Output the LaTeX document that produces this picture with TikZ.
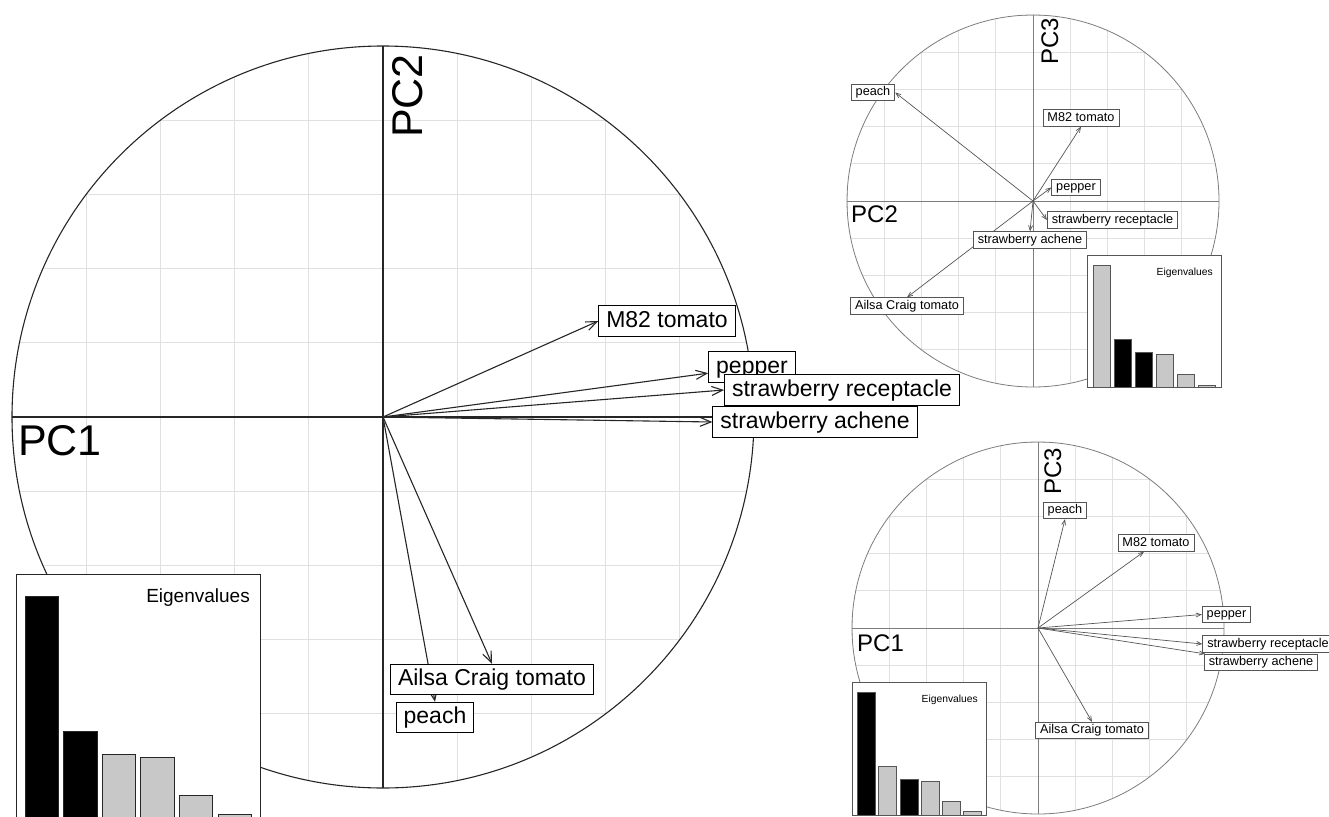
\documentclass[tikz,border=0pt]{standalone}
\usepackage{fontspec}
\setmainfont{Liberation Sans}
\usetikzlibrary{arrows.meta}
\pgfdeclarelayer{back}
\pgfdeclarelayer{arrowlayer}
\pgfsetlayers{back,arrowlayer,main}
\definecolor{gridgray}{RGB}{224,224,224}
\definecolor{bargray}{RGB}{200,200,200}
\definecolor{linegray}{RGB}{125,125,125}
\definecolor{arrowgray}{RGB}{85,85,85}
\tikzset{
  bigbox/.style={draw=black, fill=white, line width=1pt, font=\fontsize{23}{27}\selectfont, inner xsep=7.5pt, inner ysep=4.3pt, text height=17pt, text depth=4.8pt},
  smallbox/.style={draw=arrowgray, fill=white, line width=0.8pt, font=\fontsize{12.7}{15}\selectfont, inner xsep=4.5pt, inner ysep=2.2pt, text height=9.4pt, text depth=2.7pt},
  bigarrow/.style={-{Straight Barb[length=11pt,width=9pt]}, line width=1.1pt, draw=black!85},
  smallarrow/.style={-{Straight Barb[length=5pt,width=4pt]}, line width=0.7pt, draw=arrowgray},
  gridline/.style={draw=gridgray, line width=0.9pt},
  bigaxis/.style={draw=black!85, line width=1.1pt},
  smallaxis/.style={draw=linegray, line width=0.8pt},
  eigbox/.style={draw=black!85, fill=white, line width=1pt},
  barblack/.style={draw=black!85, fill=black, line width=1pt},
  barlight/.style={draw=black!85, fill=bargray, line width=1pt},
  smalleigbox/.style={draw=arrowgray, fill=white, line width=0.8pt},
  smallbarblack/.style={draw=arrowgray, fill=black, line width=0.8pt},
  smallbarlight/.style={draw=arrowgray, fill=bargray, line width=0.8pt},
  axislabel/.style={inner sep=0pt, anchor=base west}
}
\begin{document}
\begin{tikzpicture}[x=1pt, y=-1pt]
\useasboundingbox (0,0) rectangle (1329,816);
\clip (0,0) rectangle (1329,816);
% PC1 / PC2
\begin{pgfonlayer}{back}
\begin{scope}[shift={(383,417)}]
\clip (0,0) circle (371);
\draw[gridline, step=74.2pt] (-371,-371) grid (371,371);
\end{scope}
\draw[bigaxis] (383,417) circle (371);
\draw[bigaxis] (12,417) -- (754,417);
\draw[bigaxis] (383,46) -- (383,788);
\end{pgfonlayer}
\coordinate (O1) at (383,417);
\node[bigbox] (m82a) at (667,321) {M82 tomato};
\node[bigbox] (peppera) at (752,367) {pepper};
\node[bigbox] (recepa) at (842,390) {strawberry receptacle};
\node[bigbox] (achenea) at (815,422) {strawberry achene};
\node[bigbox] (ailsaa) at (492,679.5) {Ailsa Craig tomato};
\node[bigbox] (peacha) at (435,717.5) {peach};
\begin{pgfonlayer}{arrowlayer}
\path (O1) edge[bigarrow] (m82a.west);
\path (O1) edge[bigarrow] (peppera.188);
\path (O1) edge[bigarrow] (recepa.west);
\path (O1) edge[bigarrow] (achenea.west);
\path (O1) edge[bigarrow] (ailsaa.north);
\path (O1) edge[bigarrow] (peacha.north);
\end{pgfonlayer}
\node[axislabel, font=\fontsize{43}{50}\selectfont] (pc1a) at (18,455) {PC1};
\node[axislabel, font=\fontsize{43}{50}\selectfont, rotate=90] (pc2a) at (422,138) {PC2};
\draw[eigbox] (16,574) rectangle (260,818);
\draw[barblack] (25,596) rectangle (58.5,818);
\draw[barblack] (63.6,731) rectangle (97,818);
\draw[barlight] (102.2,754) rectangle (135.5,818);
\draw[barlight] (140.8,757) rectangle (174,818);
\draw[barlight] (179.4,795) rectangle (212.5,818);
\draw[barlight] (218,814) rectangle (251.5,818);
\node[inner sep=0pt, anchor=base east, font=\fontsize{19}{22}\selectfont] (eiga) at (250,602) {Eigenvalues};
% PC2 / PC3
\begin{pgfonlayer}{back}
\begin{scope}[shift={(1033,201)}]
\clip (0,0) circle (186);
\draw[gridline, step=37.2pt] (-186,-186) grid (186,186);
\end{scope}
\draw[smallaxis] (1033,201) circle (186);
\draw[smallaxis] (847,201) -- (1219,201);
\draw[smallaxis] (1033,15) -- (1033,387);
\end{pgfonlayer}
\coordinate (O2) at (1033,201);
\node[smallbox] (peachb) at (873,92.5) {peach};
\node[smallbox] (m82b) at (1081,118) {M82 tomato};
\node[smallbox] (pepperb) at (1076,187.5) {pepper};
\node[smallbox] (recepb) at (1112.5,220) {strawberry receptacle};
\node[smallbox] (acheneb) at (1030,240) {strawberry achene};
\node[smallbox] (ailsab) at (907,306) {Ailsa Craig tomato};
\begin{pgfonlayer}{arrowlayer}
\path (O2) edge[smallarrow] (peachb.east);
\path (O2) edge[smallarrow] (m82b.south);
\path (O2) edge[smallarrow] (pepperb.west);
\path (O2) edge[smallarrow] (recepb.west);
\path (O2) edge[smallarrow] (acheneb.north);
\path (O2) edge[smallarrow] (ailsab.north);
\end{pgfonlayer}
\node[axislabel, font=\fontsize{24}{28}\selectfont] (pc2b) at (851,222) {PC2};
\node[axislabel, font=\fontsize{24}{28}\selectfont, rotate=90] (pc3b) at (1058,65) {PC3};
\draw[smalleigbox] (1087.5,255) rectangle (1221,387);
\draw[smallbarlight] (1093,265.7) rectangle (1110.5,387);
\draw[smallbarblack] (1114,339) rectangle (1131.5,387);
\draw[smallbarblack] (1135,352) rectangle (1152.5,387);
\draw[smallbarlight] (1156,354) rectangle (1173.5,387);
\draw[smallbarlight] (1177,374) rectangle (1194.5,387);
\draw[smallbarlight] (1198,385) rectangle (1215.5,387);
\node[inner sep=0pt, anchor=base east, font=\fontsize{10.3}{12}\selectfont] (eigb) at (1213,275) {Eigenvalues};
% PC1 / PC3
\begin{pgfonlayer}{back}
\begin{scope}[shift={(1038,628)}]
\clip (0,0) circle (186);
\draw[gridline, step=37.2pt] (-186,-186) grid (186,186);
\end{scope}
\draw[smallaxis] (1038,628) circle (186);
\draw[smallaxis] (852,628) -- (1224,628);
\draw[smallaxis] (1038,442) -- (1038,814);
\end{pgfonlayer}
\coordinate (O3) at (1038,628);
\node[smallbox] (peachc) at (1065,510.5) {peach};
\node[smallbox] (m82c) at (1156,543) {M82 tomato};
\node[smallbox] (pepperc) at (1226.5,614.5) {pepper};
\node[smallbox] (recepc) at (1268,644) {strawberry receptacle};
\node[smallbox] (achenec) at (1261,662.5) {strawberry achene};
\node[smallbox] (ailsac) at (1092,730.5) {Ailsa Craig tomato};
\begin{pgfonlayer}{arrowlayer}
\path (O3) edge[smallarrow] (peachc.south);
\path (O3) edge[smallarrow] (m82c);
\path (O3) edge[smallarrow] (pepperc.west);
\path (O3) edge[smallarrow] (recepc.west);
\path (O3) edge[smallarrow] (achenec);
\path (O3) edge[smallarrow] (ailsac.north);
\end{pgfonlayer}
\node[axislabel, font=\fontsize{24}{28}\selectfont] (pc1c) at (857,651) {PC1};
\node[axislabel, font=\fontsize{24}{28}\selectfont, rotate=90] (pc3c) at (1061,495) {PC3};
\draw[smalleigbox] (852,682) rectangle (986,815.5);
\draw[smallbarblack] (857,692.7) rectangle (875,815.5);
\draw[smallbarlight] (878.5,766.7) rectangle (896.5,815.5);
\draw[smallbarblack] (900,779) rectangle (918,815.5);
\draw[smallbarlight] (921,781) rectangle (939,815.5);
\draw[smallbarlight] (942,801.7) rectangle (960,815.5);
\draw[smallbarlight] (963,811.7) rectangle (981,815.5);
\node[inner sep=0pt, anchor=base east, font=\fontsize{10.3}{12}\selectfont] (eigc) at (978,702) {Eigenvalues};
\end{tikzpicture}
\end{document}
